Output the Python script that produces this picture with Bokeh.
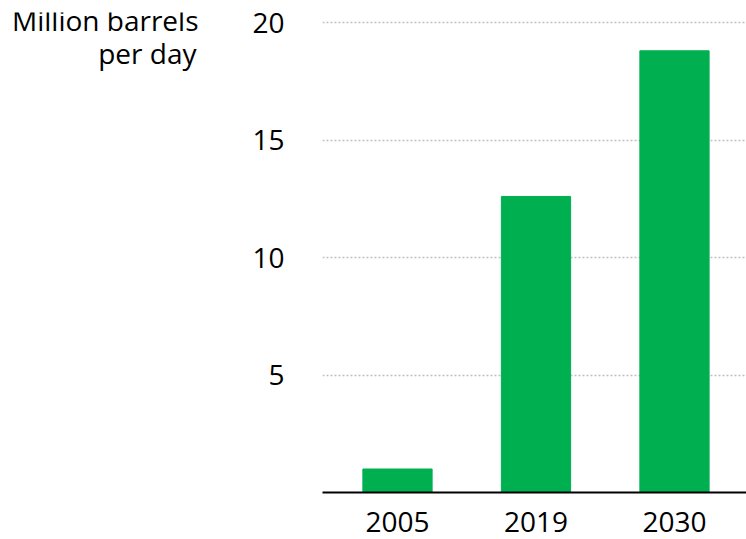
from bokeh.plotting import figure
from bokeh.models import Range1d, FixedTicker, ColumnDataSource
from bokeh.layouts import row
from bokeh.core.properties import value
from bokeh.embed import file_html
from bokeh.resources import INLINE

years = ["2005", "2019", "2030"]
values = [1.0, 12.6, 18.8]
y_ticks = [5, 10, 15, 20]
title_lines = ["Million barrels", "per day"]

FONT = "Open Sans"
GREEN = "#00B050"
W, H = 746, 539
LEFT_W = 230

# ---- title panel (left) ----
t = figure(width=LEFT_W, height=H, output_backend="svg", toolbar_location=None,
           x_range=Range1d(0, LEFT_W), y_range=Range1d(0, H),
           x_axis_type=None, y_axis_type=None, min_border=0)
t.outline_line_color = None
t.xgrid.visible = False
t.ygrid.visible = False
t.text(x=[198, 196], y=[H - 8, H - 45], text=title_lines,
       text_align="right", text_baseline="alphabetic",
       text_font=value(FONT), text_font_size="28px", text_color="black")

# ---- chart ----
xs = list(range(len(years)))
src = ColumnDataSource(dict(x=xs, top=values))

p = figure(width=W - LEFT_W, height=H, output_backend="svg", toolbar_location=None,
           x_range=Range1d(-0.5415, 2.52), y_range=Range1d(0, 20.43),
           min_border_left=322 - LEFT_W, min_border_right=0, min_border_top=12,
           min_border_bottom=47)
p.outline_line_color = None
p.background_fill_color = "white"
p.border_fill_color = "white"

p.vbar(x="x", top="top", width=0.5, bottom=0, source=src, color=GREEN)

# x axis
p.xaxis.ticker = FixedTicker(ticks=xs)
p.xaxis.major_label_overrides = {i: y for i, y in enumerate(years)}
p.xaxis.axis_line_color = "black"
p.xaxis.axis_line_width = 2
p.xaxis.major_tick_line_color = None
p.xaxis.minor_tick_line_color = None
p.xaxis.major_label_text_font = FONT
p.xaxis.major_label_text_font_size = "28px"
p.xaxis.major_label_text_color = "black"
p.xaxis.major_label_standoff = 13

# y axis
p.yaxis.ticker = FixedTicker(ticks=y_ticks)
p.yaxis.axis_line_color = None
p.yaxis.major_tick_line_color = None
p.yaxis.minor_tick_line_color = None
p.yaxis.major_label_text_font = FONT
p.yaxis.major_label_text_font_size = "28px"
p.yaxis.major_label_text_color = "black"
p.yaxis.major_label_standoff = 32

p.xgrid.grid_line_color = None
p.ygrid.ticker = FixedTicker(ticks=y_ticks)
p.ygrid.grid_line_color = "#BFBFBF"
p.ygrid.grid_line_dash = "2 2"
p.ygrid.grid_line_width = 1.5

layout = row(t, p, spacing=0)
open("out.html", "w").write(file_html(layout, INLINE))
